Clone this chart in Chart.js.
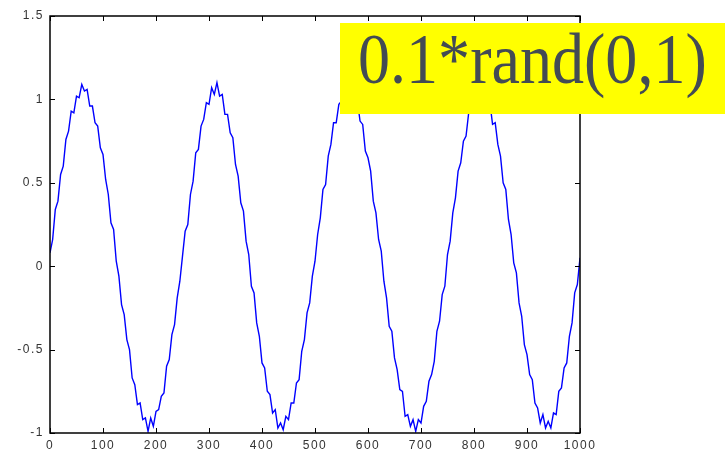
<!DOCTYPE html>
<html>
<head>
<meta charset="utf-8">
<script src="https://cdn.jsdelivr.net/npm/chart.js@4.4.1/dist/chart.umd.min.js"></script>
<style>
    html, body { margin: 0; padding: 0; background: #fff; }
    #wrap { position: relative; width: 725px; height: 453px; overflow: hidden; }
    #note {
        position: absolute; left: 340px; top: 23px; width: 385px; height: 91px;
        background: #ffff00;
    }
    #note span {
        position: absolute; left: 18px; top: -5px;
        font-family: "Liberation Serif", serif; font-size: 72px; color: #434b54;
        transform: scaleX(0.89); transform-origin: left top; white-space: nowrap;
    }
</style>
</head>
<body>
<div id="wrap">
    <canvas id="chart" width="725" height="453"></canvas>
    <div id="note"><span>0.1*rand(0,1)</span></div>
</div>
<script>
// sample spacing along x (one value every 5 samples)
const sampleStep = 5;

// signal values, 4 cycles of ~50 samples each
const cycle1 = [0.08, 0.16, 0.34, 0.39, 0.55, 0.60, 0.76, 0.81, 0.93, 0.92,
    1.02, 1.01, 1.09, 1.05, 1.06, 0.96, 0.96, 0.86, 0.84, 0.71,
    0.67, 0.52, 0.43, 0.26, 0.22, 0.03, -0.06, -0.23, -0.29, -0.44,
    -0.50, -0.67, -0.71, -0.83, -0.82, -0.92, -0.91, -0.99, -0.91, -0.96,
    -0.87, -0.86, -0.78, -0.76, -0.60, -0.56, -0.41, -0.35, -0.19, -0.09];
const cycle2 = [0.06, 0.21, 0.25, 0.43, 0.51, 0.68, 0.70, 0.84, 0.88, 0.98,
    0.97, 1.07, 1.03, 1.10, 1.02, 1.03, 0.91, 0.91, 0.80, 0.77,
    0.61, 0.54, 0.38, 0.33, 0.15, 0.07, -0.12, -0.16, -0.34, -0.42,
    -0.58, -0.61, -0.75, -0.77, -0.88, -0.86, -0.97, -0.94, -0.98, -0.90,
    -0.92, -0.82, -0.82, -0.70, -0.68, -0.51, -0.44, -0.28, -0.22, -0.06];
const cycle3 = [0.03, 0.19, 0.29, 0.46, 0.49, 0.66, 0.73, 0.86, 0.86, 0.97,
    0.99, 1.06, 1.02, 1.08, 1.04, 0.97, 0.99, 0.87, 0.85, 0.69,
    0.65, 0.57, 0.39, 0.32, 0.16, 0.09, -0.09, -0.19, -0.36, -0.39,
    -0.55, -0.62, -0.74, -0.75, -0.90, -0.89, -0.96, -0.92, -0.99, -0.92,
    -0.94, -0.84, -0.81, -0.69, -0.65, -0.57, -0.39, -0.33, -0.17, -0.12];
const cycle4 = [0.07, 0.15, 0.32, 0.41, 0.57, 0.62, 0.75, 0.78, 0.92, 0.95,
    1.04, 0.99, 1.07, 1.03, 1.07, 0.99, 0.98, 0.85, 0.86, 0.73,
    0.66, 0.50, 0.46, 0.28, 0.19, 0.02, -0.04, -0.22, -0.30, -0.47,
    -0.53, -0.65, -0.68, -0.82, -0.85, -0.94, -0.89, -0.97, -0.93, -0.97,
    -0.88, -0.89, -0.75, -0.73, -0.61, -0.58, -0.42, -0.34, -0.16, -0.11];
const lastValue = [0.05];

const xTicks = [0, 100, 200, 300, 400, 500, 600, 700, 800, 900, 1000];
const yTicks = [-1, -0.5, 0, 0.5, 1, 1.5];

const signal = [].concat(cycle1, cycle2, cycle3, cycle4, lastValue);
const points = signal.map((v, i) => ({ x: i * sampleStep, y: v }));

// 坐标框 + 向内的刻度线
const boxTicks = {
    id: 'boxTicks',
    beforeDraw(chart) {
        chart.ctx.letterSpacing = '1.5px';
    },
    afterDraw(chart) {
        const ctx = chart.ctx;
        const a = chart.chartArea;
        const xs = chart.scales.x;
        const ys = chart.scales.y;
        const len = 5;
        ctx.save();
        ctx.strokeStyle = '#000';
        ctx.lineWidth = 1.5;
        ctx.strokeRect(a.left, a.top, a.right - a.left, a.bottom - a.top);
        ctx.lineWidth = 1;
        ctx.beginPath();
        xTicks.forEach(t => {
            const px = Math.round(xs.getPixelForValue(t)) + 0.5;
            ctx.moveTo(px, a.bottom); ctx.lineTo(px, a.bottom - len);
            ctx.moveTo(px, a.top); ctx.lineTo(px, a.top + len);
        });
        yTicks.forEach(t => {
            const py = Math.round(ys.getPixelForValue(t)) + 0.5;
            ctx.moveTo(a.left, py); ctx.lineTo(a.left + len, py);
            ctx.moveTo(a.right, py); ctx.lineTo(a.right - len, py);
        });
        ctx.stroke();
        ctx.restore();
    }
};

new Chart(document.getElementById('chart'), {
    type: 'line',
    data: {
        datasets: [{
            data: points,
            borderColor: '#0000ff',
            borderWidth: 1.4,
            pointRadius: 0,
            tension: 0,
            fill: false
        }]
    },
    options: {
        responsive: false,
        animation: false,
        layout: { padding: { left: 0, right: 145, top: 16, bottom: 0 } },
        plugins: {
            legend: { display: false },
            tooltip: { enabled: false }
        },
        scales: {
            x: {
                type: 'linear',
                min: 0,
                max: 1000,
                afterBuildTicks: s => { s.ticks = xTicks.map(v => ({ value: v })); },
                afterFit: s => { s.height = 20; },
                grid: { display: false, drawTicks: false },
                border: { display: false },
                ticks: {
                    padding: 5,
                    color: '#333',
                    font: { family: 'Liberation Sans', size: 12 },
                    callback: v => String(v)
                }
            },
            y: {
                min: -1,
                max: 1.5,
                afterBuildTicks: s => { s.ticks = yTicks.map(v => ({ value: v })); },
                afterFit: s => { s.width = 50; },
                grid: { display: false, drawTicks: false },
                border: { display: false },
                ticks: {
                    padding: 6,
                    color: '#333',
                    font: { family: 'Liberation Sans', size: 12 },
                    callback: v => String(v)
                }
            }
        }
    },
    plugins: [boxTicks]
});
</script>
</body>
</html>
